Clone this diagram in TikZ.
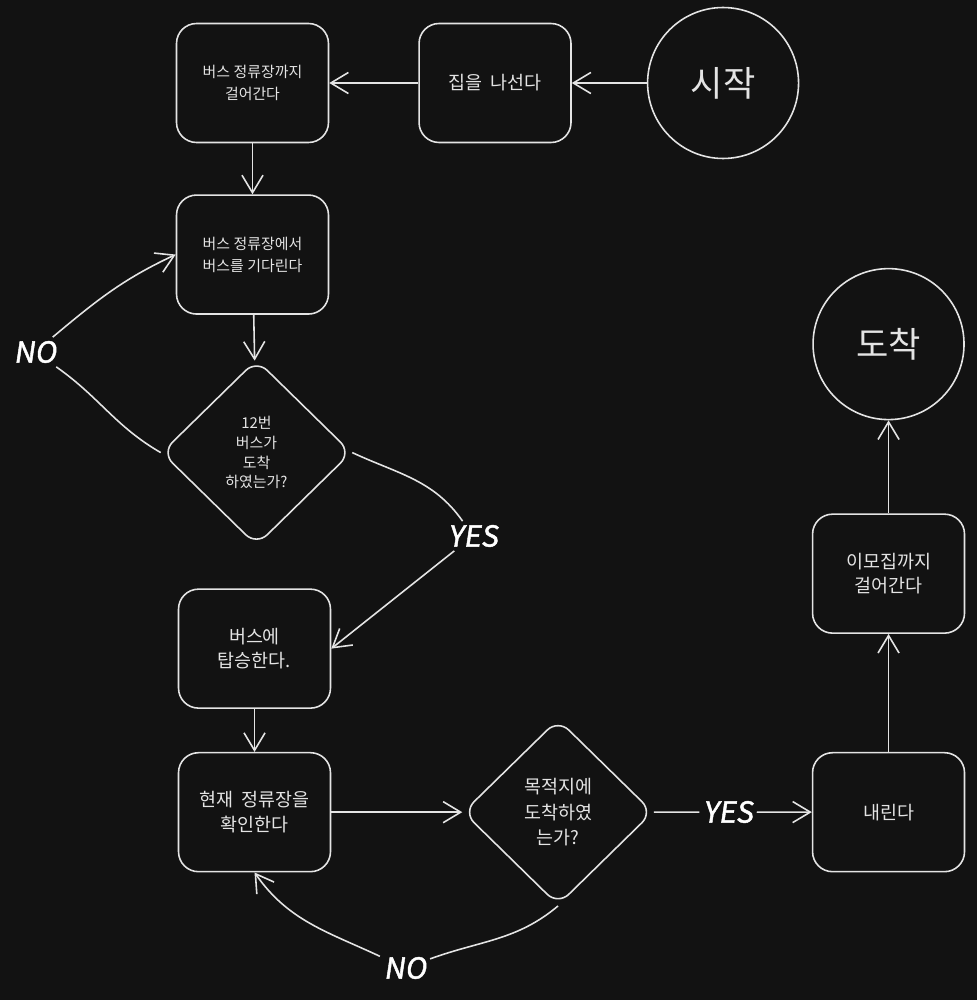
\documentclass[tikz,border=0pt]{standalone}
\usepackage{fontspec}
\newfontfamily\kr{Noto Sans CJK KR}
\newfontfamily\hand[FakeSlant=0.15,FakeBold=1.5]{Noto Sans CJK KR}
\usepackage{tikz}
\usetikzlibrary{positioning, arrows.meta, shapes.geometric}
\definecolor{canvas}{HTML}{121212}
\definecolor{ink}{HTML}{E4E4E4}

\begin{document}
\begin{tikzpicture}[
    x=0.02cm, y=-0.02cm,
    every node/.style={text=ink},
    box/.style={rectangle, draw=ink, line width=0.9pt, rounded corners=0.4cm, minimum width=3.04cm, minimum height=2.38cm, inner sep=0pt, align=center, font=\kr\fontsize{10.5}{14}\selectfont},
    smallbox/.style={box, font=\kr\fontsize{8.5}{12.5}\selectfont},
    decision/.style={diamond, draw=ink, line width=0.9pt, rounded corners=0.3cm, minimum width=3.8cm, minimum height=3.72cm, inner sep=0pt, align=center, font=\kr\fontsize{10.5}{14.5}\selectfont},
    terminal/.style={circle, draw=ink, line width=0.9pt, minimum size=3.02cm, inner sep=0pt, font=\kr\fontsize{20}{20}\selectfont},
    link/.style={draw=ink, line width=0.9pt},
    flow/.style={link, -{Straight Barb[length=10pt,width=12pt]}},
    answer/.style={font=\hand\fontsize{16.5}{16.5}\selectfont, text=white, inner sep=2pt}
]
\fill[canvas] (0,0) rectangle (977,1000);

% top row
\node[smallbox] (walk) at (252.5,83) {버스 정류장까지\\걸어간다};
\node[box, right=1.78cm of walk] (leave) {집을~~나선다};
\node[terminal, right=1.5cm of leave] (start) {시작};

% left column
\node[smallbox, below=1.02cm of walk] (wait) {버스 정류장에서\\버스를 기다린다};
\node[decision, below=0.88cm of wait, xshift=0.08cm, font=\kr\fontsize{8.5}{11.3}\selectfont] (bus12) {12번\\버스가\\도착\\하였는가?};
\node[box, below=0.84cm of bus12, xshift=-0.04cm] (board) {버스에\\탑승한다.};
\node[box, below=0.86cm of board] (check) {현재~~정류장을\\확인한다};

% bottom row and right column
\node[decision, right=2.62cm of check] (dest) {목적지에\\도착하였\\는가?};
\node[box, right=3.16cm of dest] (getoff) {내린다};
\node[box, above=2.36cm of getoff] (walk2) {이모집까지\\걸어간다};
\node[terminal, above=1.86cm of walk2] (arrive) {도착};

% answers
\node[answer] (no1) at (35,352) {NO};
\node[answer] (yes1) at (473,536) {YES};
\node[answer] (yes2) at (728,812) {YES};
\node[answer] (no2) at (405,968) {NO};

\draw[flow] (start) -- (leave);
\draw[flow] (leave) -- (walk);
\draw[flow] (walk) -- (wait);
\draw[flow] (wait) -- (bus12);
\draw[link] (bus12.west) to[out=150,in=-35] (no1);
\draw[flow] (no1) to[out=40,in=205] (wait.west);
\draw[link] (bus12.east) to[out=-25,in=125] (yes1);
\draw[flow] (yes1) -- (board.east);
\draw[flow] (board) -- (check);
\draw[flow] (check) -- (dest);
\draw[link] (dest.east) -- (yes2);
\draw[flow] (yes2) -- (getoff);
\draw[link] (dest.south) to[out=-140,in=20] (no2);
\draw[flow] (no2) to[out=155,in=-55] (check.south);
\draw[flow] (getoff) -- (walk2);
\draw[flow] (walk2) -- (arrive);
\end{tikzpicture}
\end{document}
